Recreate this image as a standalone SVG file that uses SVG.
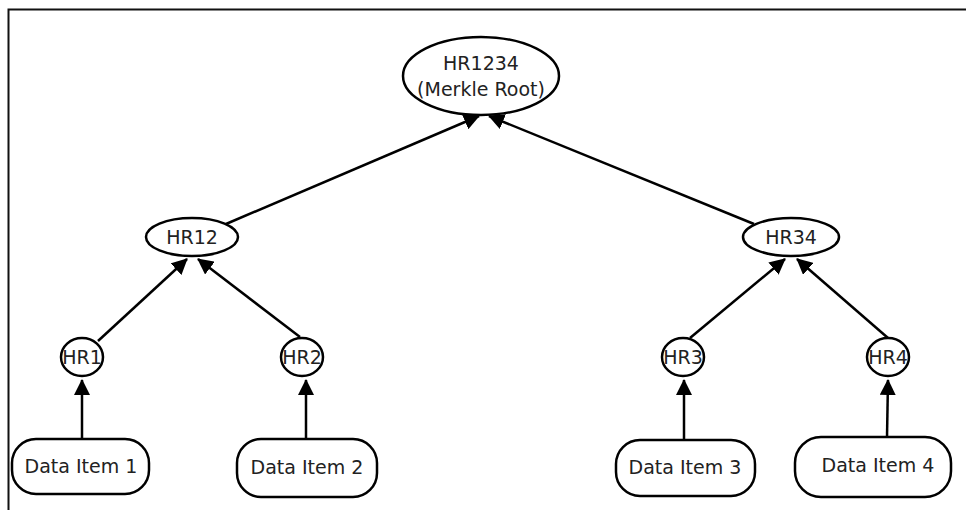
<svg xmlns="http://www.w3.org/2000/svg" width="966" height="510" viewBox="0 0 966 510">
<style>
  .n { fill: #ffffff; stroke: #000000; stroke-width: 2.5; }
  .t { font-family: "DejaVu Sans", "Liberation Sans", sans-serif; font-size: 19px; fill: #222222; text-anchor: middle; }
  .c { stroke: #000000; stroke-width: 2.5; fill: none; marker-end: url(#ah); }
</style>
<defs>
  <marker id="ah" markerUnits="userSpaceOnUse" markerWidth="16" markerHeight="16" refX="15" refY="8" orient="auto">
    <path d="M0,0 L16,8 L0,16 Z" fill="#000000"/>
  </marker>
</defs>
<rect x="0" y="0" width="966" height="510" fill="#ffffff"/>
<path d="M8.5,510 L8.5,9.5 L966,9.5" fill="none" stroke="#111111" stroke-width="2"/>
<g id="connectors">
  <line class="c" x1="82" y1="439" x2="82" y2="380"/>
  <line class="c" x1="306" y1="439" x2="306" y2="380"/>
  <line class="c" x1="684" y1="440" x2="684" y2="380"/>
  <line class="c" x1="887" y1="437" x2="888" y2="380"/>
  <line class="c" x1="98" y1="341" x2="187" y2="259"/>
  <line class="c" x1="300" y1="337" x2="198" y2="259"/>
  <line class="c" x1="690" y1="338" x2="785" y2="259"/>
  <line class="c" x1="888" y1="338" x2="797" y2="259"/>
  <line class="c" x1="226" y1="224" x2="479" y2="116"/>
  <line class="c" x1="754" y1="224" x2="489" y2="116"/>
</g>
<g id="root">
  <ellipse class="n" cx="481" cy="76" rx="78" ry="39"/>
  <text class="t" x="481" y="70">HR1234</text>
  <text class="t" x="481" y="96">(Merkle Root)</text>
</g>
<g id="hr12">
  <ellipse class="n" cx="192" cy="237" rx="46" ry="19"/>
  <text class="t" x="192" y="244">HR12</text>
</g>
<g id="hr34">
  <ellipse class="n" cx="791" cy="237" rx="48" ry="19"/>
  <text class="t" x="791" y="244">HR34</text>
</g>
<g id="hr1">
  <ellipse class="n" cx="82" cy="357" rx="21" ry="19"/>
  <text class="t" x="82" y="364">HR1</text>
</g>
<g id="hr2">
  <ellipse class="n" cx="302" cy="357" rx="21" ry="19"/>
  <text class="t" x="302" y="364">HR2</text>
</g>
<g id="hr3">
  <ellipse class="n" cx="683" cy="357" rx="21" ry="19"/>
  <text class="t" x="683" y="364">HR3</text>
</g>
<g id="hr4">
  <ellipse class="n" cx="888" cy="357" rx="21" ry="19"/>
  <text class="t" x="888" y="364">HR4</text>
</g>
<g id="data1">
  <rect class="n" x="12" y="439" width="137" height="55" rx="24" ry="24"/>
  <text class="t" x="81" y="473">Data Item 1</text>
</g>
<g id="data2">
  <rect class="n" x="237" y="439" width="140" height="58" rx="24" ry="24"/>
  <text class="t" x="307" y="474">Data Item 2</text>
</g>
<g id="data3">
  <rect class="n" x="616" y="440" width="139" height="56" rx="24" ry="24"/>
  <text class="t" x="685" y="474">Data Item 3</text>
</g>
<g id="data4">
  <rect class="n" x="795" y="437" width="156" height="60" rx="26" ry="26"/>
  <text class="t" x="878" y="472">Data Item 4</text>
</g>
</svg>
